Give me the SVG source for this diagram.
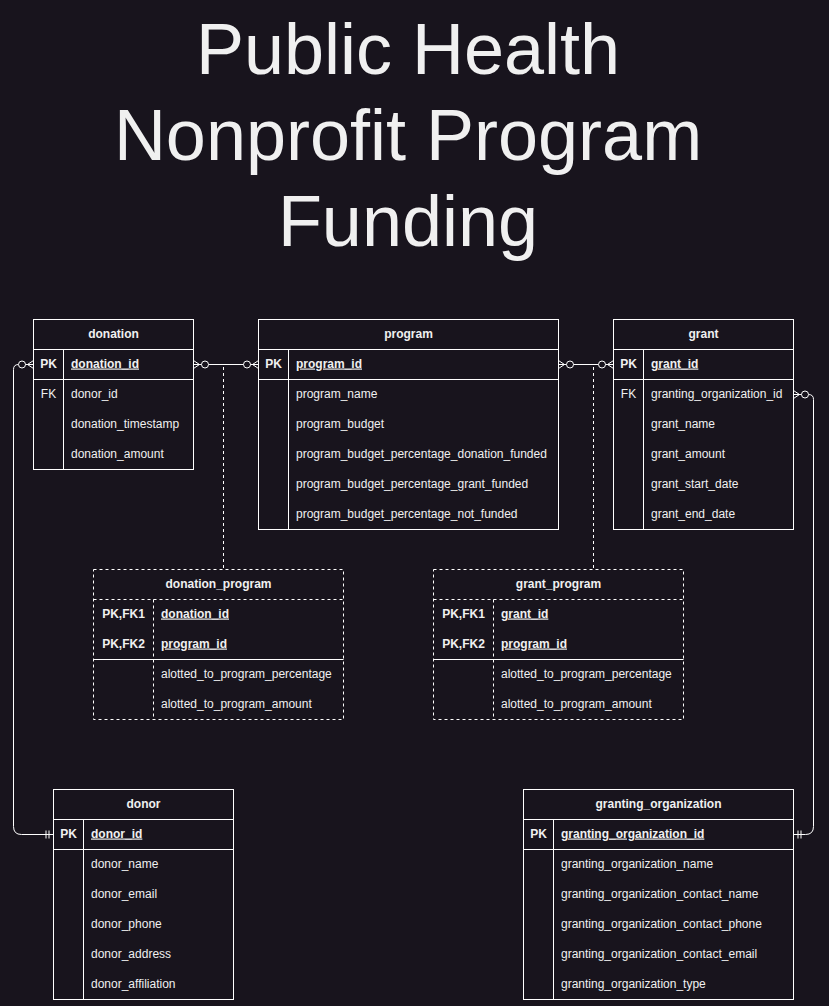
<svg xmlns="http://www.w3.org/2000/svg" xmlns:xlink="http://www.w3.org/1999/xlink" width="829" height="1006" viewBox="0 0 829 1006">
<style>
.bg{fill:#18141d}
.box{fill:#18141d;stroke:#ffffff;stroke-width:1}
.ln{stroke:#ffffff;stroke-width:1;fill:none}
.dash{stroke:#ffffff;stroke-width:1;fill:none;stroke-dasharray:3 3}
.dbox{fill:#18141d;stroke:#ffffff;stroke-width:1;stroke-dasharray:3 3}
text{font-family:"Liberation Sans",Arial,Helvetica,sans-serif;fill:#f0f0f0;font-size:12px}
.title{font-size:72px;text-anchor:middle}
.hd{font-weight:bold;text-anchor:middle}
.key{font-weight:bold;text-anchor:middle}
.fk{text-anchor:middle}
.pk{text-decoration:underline;font-weight:bold}
</style>
<defs>
<g id="zm">
<path d="M0,-4 L6,0 L0,4 M0,0 H8" class="ln"/>
<circle cx="11.5" cy="0" r="3.5" fill="#18141d" stroke="#ffffff" stroke-width="1"/>
</g>
<g id="one">
<path d="M4.5,-4 V4 M7.5,-4 V4" class="ln"/>
</g>
</defs>
<rect width="829" height="1006" class="bg"/>
<g id="title">
<text class="title" x="408" y="74">Public Health</text>
<text class="title" x="408" y="160">Nonprofit Program</text>
<text class="title" x="408" y="246">Funding</text>
</g>
<g id="connectors">
<line x1="193.5" y1="364.5" x2="258.5" y2="364.5" class="ln"/>
<line x1="558.5" y1="364.5" x2="613.5" y2="364.5" class="ln"/>
<path d="M33.5,364.5 H18.5 Q13.5,364.5 13.5,369.5 V826.5 Q13.5,834.5 21.5,834.5 H53.5" class="ln"/>
<path d="M793.5,394.5 H808.5 Q813.5,394.5 813.5,399.5 V826.5 Q813.5,834.5 805.5,834.5 H793.5" class="ln"/>
<line x1="223.5" y1="367" x2="223.5" y2="569.5" class="dash"/>
<line x1="593.5" y1="367" x2="593.5" y2="569.5" class="dash"/>
<use xlink:href="#zm" transform="translate(193.5,364.5)"/>
<use xlink:href="#zm" transform="translate(258.5,364.5) scale(-1,1)"/>
<use xlink:href="#zm" transform="translate(558.5,364.5)"/>
<use xlink:href="#zm" transform="translate(613.5,364.5) scale(-1,1)"/>
<use xlink:href="#zm" transform="translate(33.5,364.5) scale(-1,1)"/>
<use xlink:href="#zm" transform="translate(793.5,394.5)"/>
<use xlink:href="#one" transform="translate(53.5,834.5) scale(-1,1)"/>
<use xlink:href="#one" transform="translate(793.5,834.5)"/>
</g>
<g id="donation">
<rect x="33.5" y="319.5" width="160" height="150" class="box"/>
<path d="M33.5,349.5 H193.5 M33.5,379.5 H193.5 M63.5,349.5 V469.5" class="ln"/>
<text class="hd" x="113.5" y="337.5">donation</text>
<text class="key" x="48.5" y="367.5">PK</text>
<text class="pk" x="71" y="367.5">donation_id</text>
<text class="fk" x="48.5" y="397.5">FK</text>
<text x="71" y="397.5">donor_id</text>
<text x="71" y="427.5">donation_timestamp</text>
<text x="71" y="457.5">donation_amount</text>
</g>
<g id="program">
<rect x="258.5" y="319.5" width="300" height="210" class="box"/>
<path d="M258.5,349.5 H558.5 M258.5,379.5 H558.5 M288.5,349.5 V529.5" class="ln"/>
<text class="hd" x="408.5" y="337.5">program</text>
<text class="key" x="273.5" y="367.5">PK</text>
<text class="pk" x="296" y="367.5">program_id</text>
<text x="296" y="397.5">program_name</text>
<text x="296" y="427.5">program_budget</text>
<text x="296" y="457.5">program_budget_percentage_donation_funded</text>
<text x="296" y="487.5">program_budget_percentage_grant_funded</text>
<text x="296" y="517.5">program_budget_percentage_not_funded</text>
</g>
<g id="grant">
<rect x="613.5" y="319.5" width="180" height="210" class="box"/>
<path d="M613.5,349.5 H793.5 M613.5,379.5 H793.5 M643.5,349.5 V529.5" class="ln"/>
<text class="hd" x="703.5" y="337.5">grant</text>
<text class="key" x="628.5" y="367.5">PK</text>
<text class="pk" x="651" y="367.5">grant_id</text>
<text class="fk" x="628.5" y="397.5">FK</text>
<text x="651" y="397.5">granting_organization_id</text>
<text x="651" y="427.5">grant_name</text>
<text x="651" y="457.5">grant_amount</text>
<text x="651" y="487.5">grant_start_date</text>
<text x="651" y="517.5">grant_end_date</text>
</g>
<g id="donation_program">
<rect x="93.5" y="569.5" width="250" height="150" class="dbox"/>
<path d="M93.5,599.5 H343.5 M153.5,599.5 V719.5" class="dash"/>
<path d="M93.5,659.5 H343.5" class="ln"/>
<text class="hd" x="218.5" y="587.5">donation_program</text>
<text class="key" x="123.5" y="617.5">PK,FK1</text>
<text class="pk" x="161" y="617.5">donation_id</text>
<text class="key" x="123.5" y="647.5">PK,FK2</text>
<text class="pk" x="161" y="647.5">program_id</text>
<text x="161" y="677.5">alotted_to_program_percentage</text>
<text x="161" y="707.5">alotted_to_program_amount</text>
</g>
<g id="grant_program">
<rect x="433.5" y="569.5" width="250" height="150" class="dbox"/>
<path d="M433.5,599.5 H683.5 M493.5,599.5 V719.5" class="dash"/>
<path d="M433.5,659.5 H683.5" class="ln"/>
<text class="hd" x="558.5" y="587.5">grant_program</text>
<text class="key" x="463.5" y="617.5">PK,FK1</text>
<text class="pk" x="501" y="617.5">grant_id</text>
<text class="key" x="463.5" y="647.5">PK,FK2</text>
<text class="pk" x="501" y="647.5">program_id</text>
<text x="501" y="677.5">alotted_to_program_percentage</text>
<text x="501" y="707.5">alotted_to_program_amount</text>
</g>
<g id="donor">
<rect x="53.5" y="789.5" width="180" height="210" class="box"/>
<path d="M53.5,819.5 H233.5 M53.5,849.5 H233.5 M83.5,819.5 V999.5" class="ln"/>
<text class="hd" x="143.5" y="807.5">donor</text>
<text class="key" x="68.5" y="837.5">PK</text>
<text class="pk" x="91" y="837.5">donor_id</text>
<text x="91" y="867.5">donor_name</text>
<text x="91" y="897.5">donor_email</text>
<text x="91" y="927.5">donor_phone</text>
<text x="91" y="957.5">donor_address</text>
<text x="91" y="987.5">donor_affiliation</text>
</g>
<g id="granting_organization">
<rect x="523.5" y="789.5" width="270" height="210" class="box"/>
<path d="M523.5,819.5 H793.5 M523.5,849.5 H793.5 M553.5,819.5 V999.5" class="ln"/>
<text class="hd" x="658.5" y="807.5">granting_organization</text>
<text class="key" x="538.5" y="837.5">PK</text>
<text class="pk" x="561" y="837.5">granting_organization_id</text>
<text x="561" y="867.5">granting_organization_name</text>
<text x="561" y="897.5">granting_organization_contact_name</text>
<text x="561" y="927.5">granting_organization_contact_phone</text>
<text x="561" y="957.5">granting_organization_contact_email</text>
<text x="561" y="987.5">granting_organization_type</text>
</g>
</svg>
